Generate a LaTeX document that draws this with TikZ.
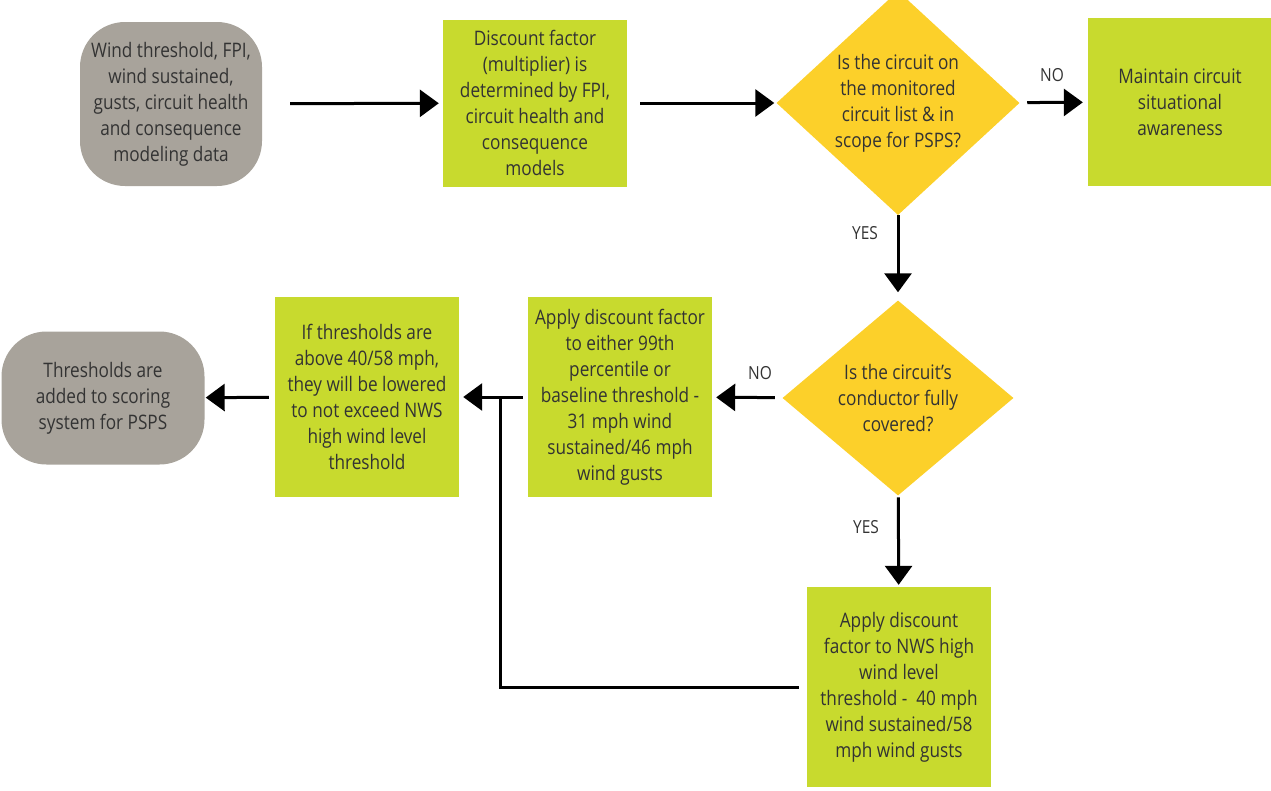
\documentclass[tikz,border=0pt]{standalone}
\usepackage{fontspec}
\setmainfont{Open Sans}[FakeStretch=0.86]
\usepackage{tikz}
\usetikzlibrary{shapes.geometric}
\usetikzlibrary{arrows.meta}

\definecolor{boxgreen}{HTML}{C8DA2E}
\definecolor{boxyellow}{HTML}{FCD02A}
\definecolor{boxgray}{HTML}{A8A39B}
\definecolor{inktext}{HTML}{333333}

\begin{document}
\begin{tikzpicture}[x=1pt,y=1pt,
        every node/.style={text=inktext,font=\fontsize{20}{26}\selectfont,align=center,inner sep=0pt},
        stepgreen/.style={fill=boxgreen,minimum width=184pt},
        stepgray/.style={fill=boxgray,rounded corners=45pt},
        question/.style={diamond,fill=boxyellow},
        flow/.style={line width=3pt,-{Triangle[length=19pt,width=27pt]}},
        answer/.style={font=\fontsize{18}{20}\selectfont}]
                \useasboundingbox (0,0) rectangle (1271,-790);

                % top row
                \node[stepgray,minimum width=182pt,minimum height=164pt] (input) at (171,-104)
                    {Wind threshold, FPI,\\ wind sustained,\\ gusts, circuit health\\ and consequence\\ modeling data};
                \node[stepgreen,minimum height=167pt] (factor) at (535,-103)
                    {Discount factor\\ (multiplier) is\\ determined by FPI,\\ circuit health and\\ consequence\\ models};
                \node[question,minimum width=243pt,minimum height=203pt] (onlist) at (898,-103)
                    {Is the circuit on\\ the monitored\\ circuit list \& in\\ scope for PSPS?};
                \node[stepgreen,minimum height=168pt] (aware) at (1180,-102)
                    {Maintain circuit\\ situational\\ awareness};

                % middle row
                \node[question,minimum width=231pt,minimum height=195pt] (covered) at (898,-398)
                    {Is the circuit’s\\ conductor fully\\ covered?};
                \node[stepgreen,minimum height=200pt] (baseline) at (620,-397)
                    {Apply discount factor\\ to either 99th\\ percentile or\\ baseline threshold -\\ 31 mph wind\\ sustained/46 mph\\ wind gusts};
                \node[stepgreen,minimum height=200pt] (lower) at (367,-397)
                    {If thresholds are\\ above 40/58 mph,\\ they will be lowered\\ to not exceed NWS\\ high wind level\\ threshold};
                \node[stepgray,minimum width=203pt,minimum height=133pt] (scoring) at (103,-398)
                    {Thresholds are\\ added to scoring\\ system for PSPS};

                % bottom
                \node[stepgreen,minimum height=200pt] (nwsapply) at (899,-687)
                    {Apply discount\\ factor to NWS high\\ wind level\\ threshold -~ 40 mph\\ wind sustained/58\\ mph wind gusts};

                \coordinate (join) at (500,-398);

                % connectors
                \draw[flow,shorten <=28pt,shorten >=4pt] (input) -- (factor);
                \draw[flow,shorten <=13pt,shorten >=2pt] (factor) -- (onlist);
                \draw[flow,shorten <=8pt,shorten >=5pt] (onlist) -- (aware);
                \draw[flow,shorten >=8pt] (onlist) -- (covered);
                \draw[flow,shorten <=8pt,shorten >=4pt] (covered) -- (baseline);
                \draw[flow,shorten <=5pt,shorten >=4pt] (baseline) -- (lower);
                \draw[flow,shorten <=6pt,shorten >=1pt] (lower) -- (scoring);
                \draw[flow,shorten <=2pt,shorten >=2pt] (covered) -- (nwsapply);
                \draw[line width=3pt,shorten <=8pt] (nwsapply.west) -| (join);

                % answers
                \node[answer] (no1) at (1052,-75) {NO};
                \node[answer] (yes1) at (865,-233) {YES};
                \node[answer] (no2) at (760,-373) {NO};
                \node[answer] (yes2) at (866,-527) {YES};
\end{tikzpicture}
\end{document}
